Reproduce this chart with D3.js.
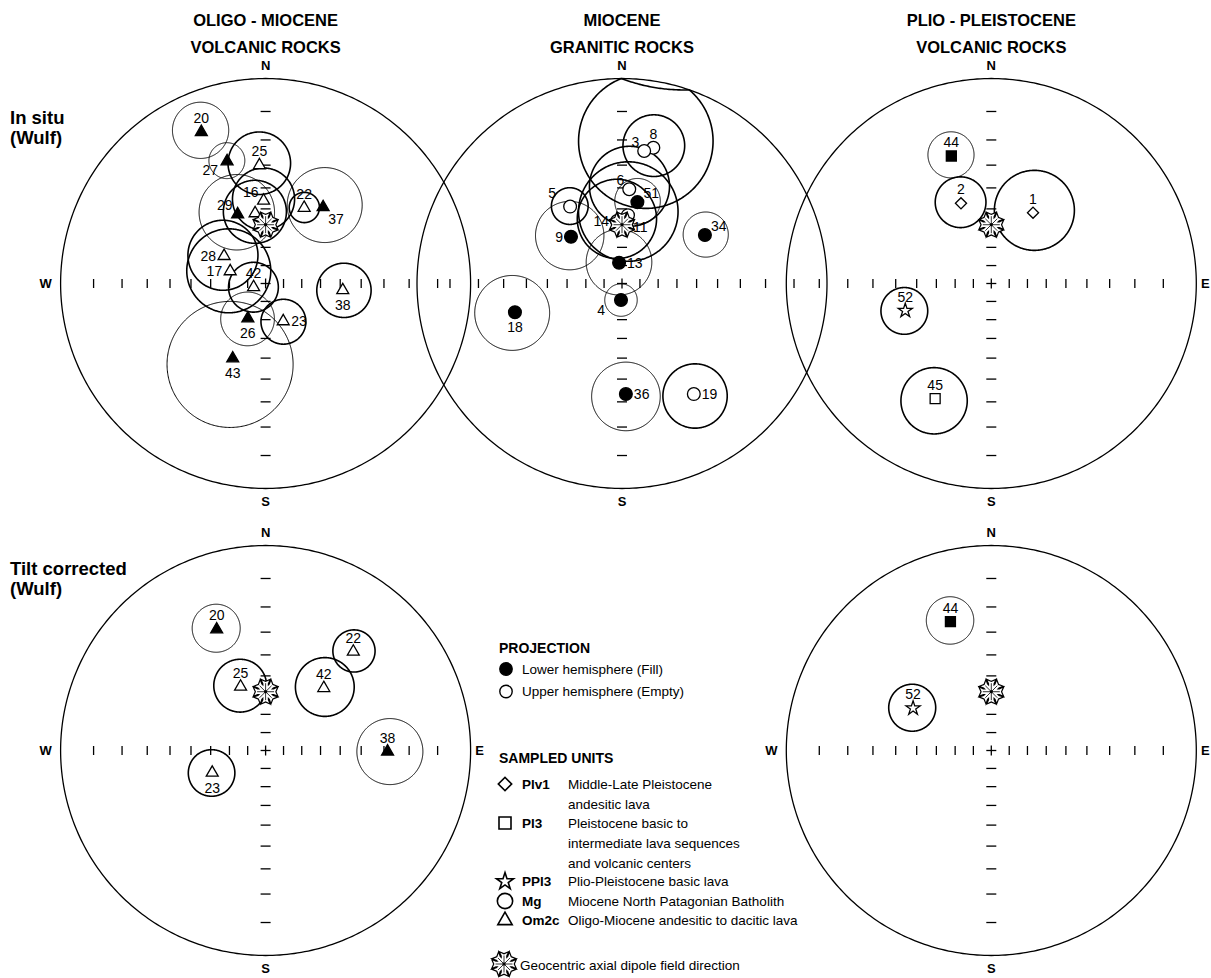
<!DOCTYPE html>
<html>
<head>
<meta charset="utf-8">
<script src="https://cdn.jsdelivr.net/npm/d3@7"></script>
<style>
  body { margin: 0; background: #fff; }
  svg { font-family: "Liberation Sans", Arial, Helvetica, sans-serif; }
</style>
</head>
<body>
<svg id="chart" width="1211" height="978"></svg>
<script>
// ---------------------------------------------------------------------------
// Site-mean palaeomagnetic directions: declination (deg), inclination (deg,
// positive = lower hemisphere), alpha95 cone (deg), geological unit.
// ---------------------------------------------------------------------------
const oligoInSitu = [
  { site: "20", dec: 337.0, inc: 12.5,  a95: 9.5,  unit: "Om2c" },
  { site: "27", dec: 342.5, inc: 26.0,  a95: 7.2,  unit: "Om2c" },
  { site: "25", dec: 357.0, inc: -30.0, a95: 13.0, unit: "Om2c" },
  { site: "16", dec: 358.6, inc: -46.0, a95: 14.8, unit: "Om2c" },
  { site: "",   dec: 351.5, inc: -51.8, a95: 15.6, unit: "Om2c" },
  { site: "29", dec: 338.0, inc: 50.0,  a95: 18.4, unit: "Om2c" },
  { site: "22", dec: 27.0,  inc: -45.0, a95: 7.2,  unit: "Om2c" },
  { site: "37", dec: 37.0,  inc: 40.0,  a95: 17.0, unit: "Om2c" },
  { site: "28", dec: 303.5, inc: -62.7, a95: 18.3, unit: "Om2c" },
  { site: "17", dec: 289.0, inc: -69.3, a95: 22.4, unit: "Om2c" },
  { site: "42", dec: 253.0, inc: -83.0, a95: 13.8, unit: "Om2c" },
  { site: "26", dec: 207.0, inc: 68.4,  a95: 14.4, unit: "Om2c" },
  { site: "23", dec: 155.0, inc: -67.0, a95: 12.0, unit: "Om2c" },
  { site: "43", dec: 203.7, inc: 46.5,  a95: 29.4, unit: "Om2c" },
  { site: "38", dec: 95.0,  inc: -48.6, a95: 13.2, unit: "Om2c" }
];

const graniticInSitu = [
  { site: "8",  dec: 13.0,  inc: -21.6, a95: 11.7, unit: "Mg" },
  { site: "3",  dec: 9.5,   inc: -23.5, a95: 25.3, unit: "Mg" },
  { site: "6",  dec: 4.4,   inc: -40.5, a95: 18.2, unit: "Mg" },
  { site: "51", dec: 10.7,  inc: 46.0,  a95: 10.9, unit: "Mg" },
  { site: "11", dec: 5.0,   inc: -53.0, a95: 24.5, unit: "Mg" },
  { site: "14", dec: 355.5, inc: -56.0, a95: 20.0, unit: "Mg" },
  { site: "5",  dec: 326.0, inc: -41.3, a95: 8.5,  unit: "Mg" },
  { site: "9",  dec: 312.5, inc: 52.7,  a95: 17.0, unit: "Mg" },
  { site: "34", dec: 59.7,  inc: 39.8,  a95: 10.3, unit: "Mg" },
  { site: "13", dec: 352.0, inc: 78.3,  a95: 18.0, unit: "Mg" },
  { site: "4",  dec: 183.5, inc: 80.8,  a95: 9.0,  unit: "Mg" },
  { site: "18", dec: 255.0, inc: 33.2,  a95: 16.0, unit: "Mg" },
  { site: "36", dec: 178.0, inc: 33.3,  a95: 14.7, unit: "Mg" },
  { site: "19", dec: 147.0, inc: -24.5, a95: 12.6, unit: "Mg" }
];

const plioInSitu = [
  { site: "44", dec: 342.6, inc: 23.8,  a95: 9.0,  unit: "Pl3" },
  { site: "2",  dec: 339.3, inc: -44.6, a95: 12.0, unit: "Plv1" },
  { site: "1",  dec: 30.5,  inc: -46.3, a95: 19.0, unit: "Plv1" },
  { site: "52", dec: 252.5, inc: -42.5, a95: 10.9, unit: "PPl3" },
  { site: "45", dec: 206.0, inc: -26.0, a95: 13.2, unit: "Pl3" }
];

const oligoTilt = [
  { site: "20", dec: 338.0, inc: 25.0,  a95: 9.5,  unit: "Om2c" },
  { site: "25", dec: 338.6, inc: -53.0, a95: 13.2, unit: "Om2c" },
  { site: "22", dec: 41.6,  inc: -24.4, a95: 8.3,  unit: "Om2c" },
  { site: "42", dec: 43.0,  inc: -44.8, a95: 13.9, unit: "Om2c" },
  { site: "38", dec: 90.5,  inc: 28.5,  a95: 13.5, unit: "Om2c" },
  { site: "23", dec: 247.4, inc: -58.5, a95: 12.0, unit: "Om2c" }
];

const plioTilt = [
  { site: "44", dec: 342.4, inc: 23.2,  a95: 9.2,  unit: "Pl3" },
  { site: "52", dec: 298.4, inc: -43.1, a95: 11.0, unit: "PPl3" }
];

// Geocentric axial dipole field direction for the study area
const gadDirection = { dec: 0, inc: -58 };

// Net graticule: tick marks every 10 degrees of inclination along N-S and E-W
const tickInclinations = [10, 20, 30, 40, 50, 60, 70, 80];

const columnTitles = [
  ["OLIGO - MIOCENE", "VOLCANIC ROCKS"],
  ["MIOCENE", "GRANITIC ROCKS"],
  ["PLIO - PLEISTOCENE", "VOLCANIC ROCKS"]
];
const rowTitles = [
  ["In situ", "(Wulf)"],
  ["Tilt corrected", "(Wulf)"]
];

const projectionLegend = [
  { lower: true,  text: "Lower hemisphere (Fill)" },
  { lower: false, text: "Upper hemisphere (Empty)" }
];
const unitLegend = [
  { unit: "Plv1", code: "Plv1", lines: ["Middle-Late Pleistocene", "andesitic lava"] },
  { unit: "Pl3",  code: "Pl3",  lines: ["Pleistocene basic to", "intermediate lava sequences", "and volcanic centers"] },
  { unit: "PPl3", code: "PPl3", lines: ["Plio-Pleistocene basic lava"] },
  { unit: "Mg",   code: "Mg",   lines: ["Miocene North Patagonian Batholith"] },
  { unit: "Om2c", code: "Om2c", lines: ["Oligo-Miocene andesitic to dacitic lava"] }
];
const gadLegendText = "Geocentric axial dipole field direction";

// ---------------------------------------------------------------------------
// Layout and styling
// ---------------------------------------------------------------------------
const R = 205;               // radius of the primitive circle
const colX = [265.6, 622, 991.3];
const rowY = [283.5, 750.5];

const labelSides = {
  oligoInSitu: { "20": "n", "27": "sw", "25": "n", "16": "nw", "29": "nw", "22": "n", "37": "se",
                 "28": "w", "17": "w", "42": "n", "26": "s", "23": "e", "43": "s", "38": "s" },
  graniticInSitu: { "8": "n", "3": "nw", "6": "nw", "51": "ne", "11": "se", "14": "w", "5": "nww",
                    "9": "w", "34": "ne", "13": "e", "4": "sww", "18": "s", "36": "e", "19": "e" },
  plioInSitu: { "44": "n", "2": "n", "1": "n", "52": "n", "45": "n" },
  oligoTilt: { "20": "n", "25": "n", "22": "n", "42": "n", "38": "n", "23": "s" },
  plioTilt: { "44": "n", "52": "n" }
};
const labelOffset = {
  n: [0, -14, "middle"], s: [0, 15, "middle"], e: [8, 0, "start"], w: [-8, 0, "end"],
  nw: [-5, -9, "end"], ne: [6, -9, "start"], sw: [-9, 9, "end"], se: [5, 12, "start"],
  nww: [-14, -14, "end"], sww: [-16, 10, "end"]
};

const panels = [
  { key: "oligoInSitu",    data: oligoInSitu,    col: 0, row: 0, compass: ["N", "S", "W"] },
  { key: "graniticInSitu", data: graniticInSitu, col: 1, row: 0, compass: ["N", "S"] },
  { key: "plioInSitu",     data: plioInSitu,     col: 2, row: 0, compass: ["N", "S", "E"] },
  { key: "oligoTilt",      data: oligoTilt,      col: 0, row: 1, compass: ["N", "S", "W", "E"] },
  { key: "plioTilt",       data: plioTilt,       col: 2, row: 1, compass: ["N", "S", "W", "E"] }
];

const symbolType = {
  Om2c: d3.symbolTriangle, Mg: d3.symbolCircle, Pl3: d3.symbolSquare,
  Plv1: d3.symbolSquare, PPl3: d3.symbolStar
};
const symbolSize = { Om2c: 62, Mg: 128, Pl3: 100, Plv1: 62, PPl3: 62 };
const symbolRotate = { Plv1: 45 };

const svg = d3.select("#chart");

// Equal-angle (Wulff) net: stereographic projection looking down the vertical.
function netProjection(cx, cy) {
  return d3.geoStereographic().scale(R).translate([cx, cy]).rotate([0, -90]);
}
// declination/inclination -> longitude/latitude on the projection sphere
const toGeo = (dec, inc) => [180 - dec, Math.abs(inc)];

function conePath(proj, d) {
  const ring = d3.geoCircle().center(toGeo(d.dec, d.inc)).radius(d.a95).precision(1)().coordinates[0];
  // parts of the cone beyond the horizontal plot back into the net
  const pts = ring.map(([lo, la]) => proj([lo, Math.abs(la)]));
  return d3.line()(pts) + "Z";
}

// eight-armed asterisk with forked tips
function gadPath() {
  const arm = [[-2.2, -1.5], [-2.2, -8.2], [-3.6, -11.2], [0, -9.6], [3.6, -11.2], [2.2, -8.2], [2.2, -1.5]];
  let path = "";
  for (let k = 0; k < 8; k++) {
    const a = k * Math.PI / 4, c = Math.cos(a), sn = Math.sin(a);
    const p = arm.map(([x, y]) => [x * c - y * sn, x * sn + y * c]);
    path += "M" + p.map(q => q[0].toFixed(2) + "," + q[1].toFixed(2)).join("L") + "Z";
  }
  return path;
}
function gadSpokes() {
  let path = "";
  for (let k = 0; k < 8; k++) {
    const a = k * Math.PI / 4;
    path += `M0,0L${(8.5 * Math.sin(a)).toFixed(2)},${(-8.5 * Math.cos(a)).toFixed(2)}`;
  }
  return path;
}

function drawGad(g, x, y) {
  const d = gadPath();
  const t = `translate(${x},${y})`;
  g.append("path").attr("d", d).attr("transform", t)
    .attr("fill", "#fff").attr("stroke", "#000").attr("stroke-width", 2.4).attr("stroke-linejoin", "miter");
  g.append("path").attr("d", d).attr("transform", t).attr("fill", "#fff");
  g.append("path").attr("d", gadSpokes()).attr("transform", t)
    .attr("fill", "none").attr("stroke", "#000").attr("stroke-width", 0.8);
}

function drawSymbol(g, unit, lower, x, y, scale = 1) {
  g.append("path")
    .attr("d", d3.symbol(symbolType[unit], symbolSize[unit] * scale * scale)())
    .attr("transform", `translate(${x},${y}) rotate(${symbolRotate[unit] || 0})`)
    .attr("fill", lower ? "#000" : "#fff")
    .attr("stroke", "#000")
    .attr("stroke-width", scale > 1 ? 1.6 : 1.3)
    .attr("stroke-linejoin", "miter");
}

function drawNet(p) {
  const cx = colX[p.col], cy = rowY[p.row];
  const proj = netProjection(cx, cy);
  const g = svg.append("g");

  // primitive circle
  const prim = d3.range(0, 361, 1).map(lon => proj([lon, 0]));
  g.append("path").attr("d", d3.line()(prim) + "Z")
    .attr("fill", "none").attr("stroke", "#000").attr("stroke-width", 1.3);

  // inclination ticks
  const ticks = g.append("g").attr("stroke", "#000").attr("stroke-width", 1.3);
  tickInclinations.forEach(inc => {
    [0, 180].forEach(dec => {
      const [x, y] = proj(toGeo(dec, inc));
      ticks.append("line").attr("x1", x - 5).attr("x2", x + 5).attr("y1", y).attr("y2", y);
    });
    [90, 270].forEach(dec => {
      const [x, y] = proj(toGeo(dec, inc));
      ticks.append("line").attr("x1", x).attr("x2", x).attr("y1", y - 4.5).attr("y2", y + 4.5);
    });
  });
  const [x0, y0] = proj([0, 90]);
  ticks.append("line").attr("x1", x0 - 5).attr("x2", x0 + 5).attr("y1", y0).attr("y2", y0);
  ticks.append("line").attr("x1", x0).attr("x2", x0).attr("y1", y0 - 5).attr("y2", y0 + 5);

  // compass letters
  const compassPos = { N: [0, -R - 13], S: [0, R + 13], W: [-R - 15, 0], E: [R + 9, 0] };
  p.compass.forEach(c => {
    g.append("text").attr("x", cx + compassPos[c][0]).attr("y", cy + compassPos[c][1])
      .attr("text-anchor", "middle").attr("dominant-baseline", "central")
      .attr("font-size", 13).attr("font-weight", "bold").text(c);
  });

  // alpha95 cones
  p.data.forEach(d => {
    g.append("path").attr("d", conePath(proj, d))
      .attr("fill", "none").attr("stroke", "#000")
      .attr("stroke-width", d.inc > 0 ? 1.0 : 1.6);
  });

  // site means and labels
  p.data.forEach(d => {
    const [x, y] = proj(toGeo(d.dec, d.inc));
    drawSymbol(g, d.unit, d.inc > 0, x, y);
    if (d.site) {
      const off = labelOffset[labelSides[p.key][d.site] || "n"];
      g.append("text").attr("x", x + off[0]).attr("y", y + off[1])
        .attr("text-anchor", off[2]).attr("dominant-baseline", "central")
        .attr("font-size", 14).text(d.site);
    }
  });

  // GAD direction on top
  const [gx, gy] = proj(toGeo(gadDirection.dec, gadDirection.inc));
  drawGad(g, gx, gy);
}

panels.forEach(drawNet);

// column headers
columnTitles.forEach((lines, i) => {
  lines.forEach((t, j) => {
    svg.append("text").attr("x", colX[i]).attr("y", 20 + j * 27)
      .attr("text-anchor", "middle").attr("dominant-baseline", "central")
      .attr("font-size", 16.5).attr("font-weight", "bold").text(t);
  });
});

// row headers
const rowTitleY = [117, 568];
rowTitles.forEach((lines, i) => {
  lines.forEach((t, j) => {
    svg.append("text").attr("x", 10).attr("y", rowTitleY[i] + j * 20.5)
      .attr("dominant-baseline", "central")
      .attr("font-size", 18.5).attr("font-weight", "bold").text(t);
  });
});

// legend
const lg = svg.append("g");
const symX = 505, codeX = 522, descX = 568;
lg.append("text").attr("x", 499).attr("y", 648).attr("dominant-baseline", "central")
  .attr("font-size", 14).attr("font-weight", "bold").text("PROJECTION");
projectionLegend.forEach((d, i) => {
  const y = 669 + i * 22.5;
  lg.append("circle").attr("cx", symX + 1).attr("cy", y).attr("r", 6.2)
    .attr("fill", d.lower ? "#000" : "#fff").attr("stroke", "#000").attr("stroke-width", 1.4);
  lg.append("text").attr("x", codeX).attr("y", y).attr("dominant-baseline", "central")
    .attr("font-size", 13.5).text(d.text);
});
lg.append("text").attr("x", 499).attr("y", 758).attr("dominant-baseline", "central")
  .attr("font-size", 14).attr("font-weight", "bold").text("SAMPLED UNITS");
let ly = 784;
unitLegend.forEach(d => {
  drawSymbol(lg, d.unit, false, symX, ly, 1.2);
  lg.append("text").attr("x", codeX).attr("y", ly).attr("dominant-baseline", "central")
    .attr("font-size", 13.5).attr("font-weight", "bold").text(d.code);
  d.lines.forEach((t, k) => {
    lg.append("text").attr("x", descX).attr("y", ly + k * 20).attr("dominant-baseline", "central")
      .attr("font-size", 13.5).text(t);
  });
  ly += d.lines.length * 19.5;
});
drawGad(lg, 504, 964);
lg.append("text").attr("x", 520).attr("y", 965).attr("dominant-baseline", "central")
  .attr("font-size", 13.5).text(gadLegendText);
</script>
</body>
</html>
